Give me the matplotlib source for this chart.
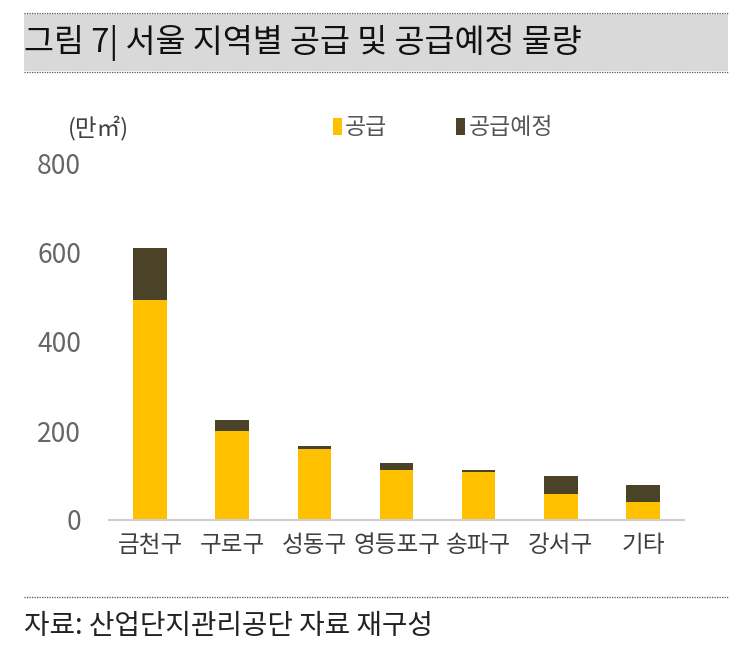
import matplotlib
matplotlib.use('agg')
import matplotlib.pyplot as plt
from matplotlib.patches import Rectangle
from matplotlib.lines import Line2D

plt.rcParams['font.family'] = ['Noto Sans CJK KR', 'DejaVu Sans']

regions = ['금천구', '구로구', '성동구', '영등포구', '송파구', '강서구', '기타']
supply = [495, 200, 160, 112, 108, 58, 41]
planned = [117, 24, 6, 17, 4, 41, 37]
yticks = [0, 200, 400, 600, 800]

W, H = 743, 649
fig = plt.figure(figsize=(W / 100, H / 100), dpi=100)

def fx(px):
    return px / W

def fy(py):
    return 1 - py / H

# title band
fig.patches.append(Rectangle((fx(24), fy(71)), fx(728) - fx(24), fy(14) - fy(71),
                             transform=fig.transFigure, facecolor='#d9d9d9', edgecolor='none'))
for yy in (13, 72, 597):
    fig.lines.append(Line2D([fx(24), fx(728)], [fy(yy), fy(yy)], transform=fig.transFigure,
                            color='#555555', lw=0.9, linestyle=(0, (1, 1))))
fig.text(fx(24), fy(43), '그림 7| 서울 지역별 공급 및 공급예정 물량', fontsize=23.5,
         color='#111111', va='center', ha='left')
fig.text(fx(24), fy(626), '자료: 산업단지관리공단 자료 재구성', fontsize=20,
         color='#222222', va='center', ha='left')

ax = fig.add_axes([fx(109), fy(520), fx(684) - fx(109), fy(164) - fy(520)])
x = range(len(regions))
ax.bar(x, supply, width=0.41, color='#ffc000', label='공급')
ax.bar(x, planned, width=0.41, bottom=supply, color='#4b4327', label='공급예정')
ax.set_xlim(-0.5, len(regions) - 0.5)
ax.set_ylim(0, 800)
ax.set_yticks(yticks)
ax.set_xticks(list(x))
ax.set_xticklabels(regions, fontsize=17, color='#404040')
ax.tick_params(axis='y', labelsize=19, labelcolor='#666666', length=0, pad=20)
ax.tick_params(axis='x', length=0, pad=10)
for s in ('top', 'right', 'left'):
    ax.spines[s].set_visible(False)
ax.spines['bottom'].set_color('#d0d0d0')
ax.spines['bottom'].set_linewidth(1.5)

fig.text(fx(68), fy(128), '(만㎡)', fontsize=17, color='#404040', va='center', ha='left')
leg = fig.legend(loc='center left', bbox_to_anchor=(fx(312), fy(128)), ncol=2, frameon=False,
                 fontsize=16.5, handlelength=0.4, handleheight=0.75, handletextpad=0.15,
                 columnspacing=3.0, labelcolor='#555555')

fig.savefig('out.png', dpi=100, facecolor='white')
